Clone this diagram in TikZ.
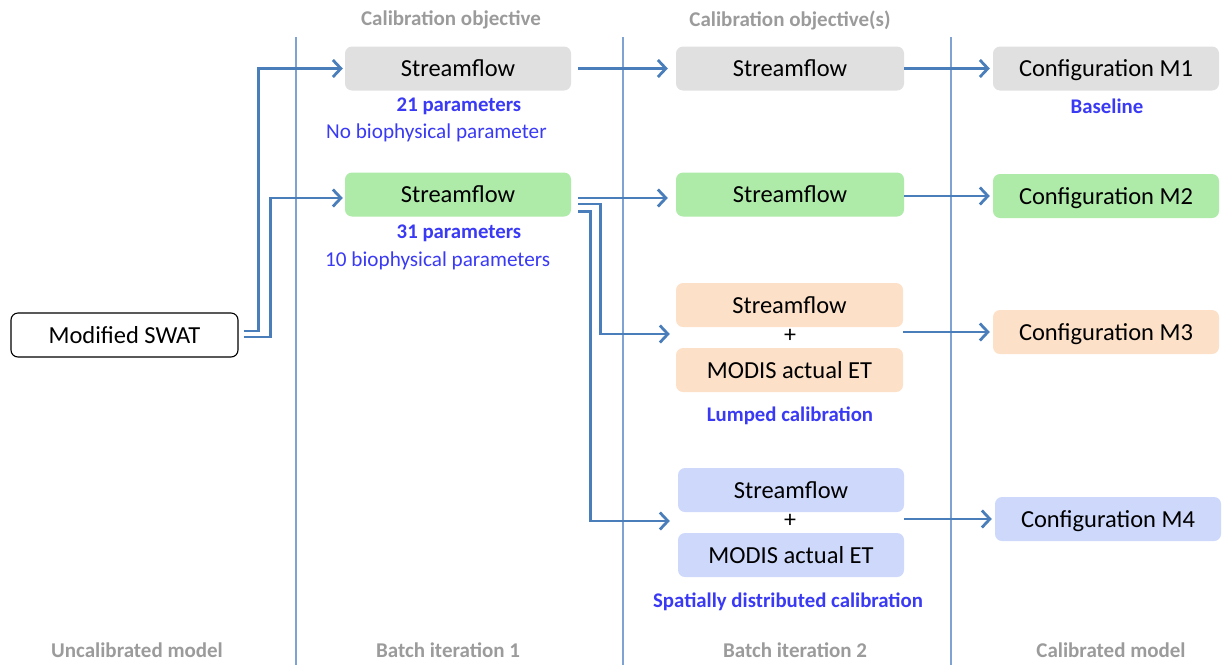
\documentclass[tikz,border=0pt]{standalone}
\usepackage{fontspec}
\setmainfont{Carlito}
\usetikzlibrary{arrows.meta,calc}
\definecolor{lineblue}{HTML}{4A7EBB}
\definecolor{sepblue}{HTML}{7EA3D3}
\definecolor{txtblue}{HTML}{3A3AF5}
\definecolor{hdrgray}{HTML}{9B9B9B}
\definecolor{boxgray}{HTML}{E0E0E0}
\definecolor{boxgreen}{HTML}{AEEAA8}
\definecolor{boxorange}{HTML}{FCE0C8}
\definecolor{boxblue}{HTML}{CDD8FB}
\tikzset{
  box/.style={rounded corners=7pt, minimum height=44pt, inner sep=0pt, text height=16pt, text depth=0pt, font=\fontsize{24.5}{28}\selectfont, text=black},
  gbox/.style={box, fill=boxgray},
  grbox/.style={box, fill=boxgreen},
  obox/.style={box, fill=boxorange},
  bbox/.style={box, fill=boxblue},
  plustxt/.style={inner sep=0pt, font=\fontsize{24}{28}\selectfont},
  bluebold/.style={inner sep=0pt, text=txtblue, font=\fontsize{20.8}{24}\selectfont\bfseries},
  bluereg/.style={inner sep=0pt, text=txtblue, font=\fontsize{21.2}{24}\selectfont},
  hdr/.style={inner sep=0pt, text=hdrgray, font=\fontsize{21}{24}\selectfont\bfseries},
  sep/.style={draw=sepblue, line width=1.5pt},
  conn/.style={draw=lineblue, line width=2.8pt},
  arr/.style={conn, -{Straight Barb[length=8pt,width=17pt]}},
}
\begin{document}
\begin{tikzpicture}[x=1pt,y=-1pt]
\useasboundingbox (0,0) rectangle (1225,665);
% separators
\coordinate (v1t) at (296,37); \coordinate (v1b) at (296,665);
\coordinate (v2t) at (623,37); \coordinate (v2b) at (623,665);
\coordinate (v3t) at (951,37); \coordinate (v3b) at (951,665);
\draw[sep] (v1t) -- (v1b);
\draw[sep] (v2t) -- (v2b);
\draw[sep] (v3t) -- (v3b);
% headers and footers
\node[hdr] (h1) at (451,20) {Calibration objective};
\node[hdr] (h2) at (790,20) {Calibration objective(s)};
\node[hdr] (f0) at (137,650) {Uncalibrated model};
\node[hdr] (f1) at (448,650) {Batch iteration 1};
\node[hdr] (f2) at (795,650) {Batch iteration 2};
\node[hdr] (f3) at (1111,650) {Calibrated model};
% nodes
\node[box, draw=black, line width=1.1pt, fill=white, minimum width=227pt] (swat) at (124.5,335) {Modified SWAT};
\node[gbox, minimum width=226pt] (s1a) at (458,68.5) {Streamflow};
\node[grbox, minimum width=226pt] (s1b) at (458,194.5) {Streamflow};
\node[bluebold] (p1a) at (459,106) {21 parameters};
\node[bluereg, anchor=west] (q1a) at (326,133) {No biophysical parameter};
\node[bluebold] (p1b) at (459,233) {31 parameters};
\node[bluereg, anchor=west] (q1b) at (325,261) {10 biophysical parameters};
\node[gbox, minimum width=228pt] (s2a) at (790,68.5) {Streamflow};
\node[grbox, minimum width=228pt] (s2b) at (790,194.5) {Streamflow};
\node[obox, minimum width=227pt] (s3a) at (789.5,305) {Streamflow};
\node[plustxt] (plus3) at (790,336) {+};
\node[obox, minimum width=227pt] (e3) at (789.5,370) {MODIS actual ET};
\node[bluebold] (l3) at (790,416) {Lumped calibration};
\node[bbox, minimum width=226pt] (s4a) at (791,490) {Streamflow};
\node[plustxt] (plus4) at (790,521) {+};
\node[bbox, minimum width=226pt] (e4) at (791,555) {MODIS actual ET};
\node[bluebold] (l4) at (788,602) {Spatially distributed calibration};
\node[gbox, minimum width=226pt] (m1) at (1106,68.5) {Configuration M1};
\node[bluebold] (b1) at (1107,106) {Baseline};
\node[grbox, minimum width=226pt] (m2) at (1106,196) {Configuration M2};
\node[obox, minimum width=226pt] (m3) at (1106,332) {Configuration M3};
\node[bbox, minimum width=226pt] (m4) at (1108,519) {Configuration M4};
% targets
\coordinate (t3) at ($(s3a.west |- plus3)+(-6,-2)$);
\coordinate (t4) at ($(s4a.west |- plus4)+(-8,0)$);
% connectors from SWAT
\draw[arr] ([xshift=5pt,yshift=4pt]swat.east) -- ++(15,0) |- ([xshift=-2pt]s1a.west);
\draw[arr] ([xshift=5pt,yshift=-2pt]swat.east) -- ++(27,0) |- ([xshift=-2pt,yshift=-3.5pt]s1b.west);
% batch 1 -> batch 2
\draw[arr] ([xshift=7pt]s1a.east) -- ([xshift=-8pt]s2a.west);
\draw[arr] ([xshift=7pt,yshift=-3.5pt]s1b.east) -- ([xshift=-8pt,yshift=-3.5pt]s2b.west);
\draw[arr] ([xshift=7pt,yshift=-9.5pt]s1b.east) -- ++(22,0) |- (t3);
\draw[arr] ([xshift=7pt,yshift=-17pt]s1b.east) -- ++(12,0) |- (t4);
% batch 2 -> calibrated
\draw[arr] (s2a.east) -- ([xshift=-3pt]m1.west);
\draw[arr] ([yshift=-1.5pt]s2b.east) -- ([xshift=-3pt]m2.west);
\draw[arr] (m3.west -| s3a.east) -- ([xshift=-3pt]m3.west);
\draw[arr] (m4.west -| s4a.east) -- ([xshift=-3pt]m4.west);
\end{tikzpicture}
\end{document}
